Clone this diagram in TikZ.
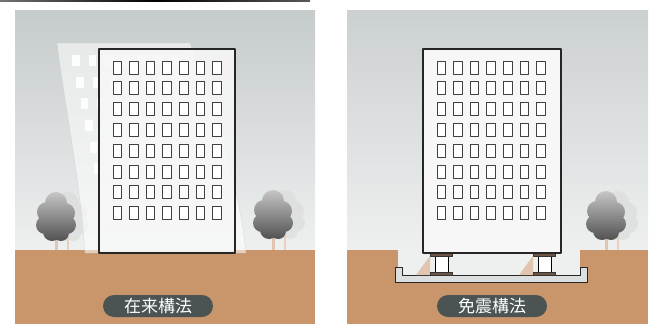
\documentclass[tikz,border=0pt]{standalone}
\usepackage{fontspec}
\newfontfamily\jpfont{Noto Sans CJK JP}
\usetikzlibrary{positioning}

\definecolor{soil}{HTML}{C9966C}
\definecolor{skytop}{HTML}{C6CBCB}
\definecolor{skylow}{HTML}{EEF0F0}
\definecolor{pillgray}{HTML}{4B5353}
\definecolor{plate}{HTML}{6E5444}
\definecolor{slab}{HTML}{DCDFDF}

\tikzset{
  bldg/.style={draw=black!85, line width=1.1pt, fill=white!94!gray, fill opacity=0.88},
  win/.style={draw=black!75, line width=0.7pt, fill=white},
  ghostwin/.style={fill=white, opacity=0.9},
  tag/.style={fill=pillgray, rounded corners=11pt, minimum width=110pt,
    minimum height=22pt, inner sep=0pt, text=white,
    font=\jpfont\fontsize{17}{17}\selectfont},
}

% canopy of a tree as a bunch of circles
\newcommand{\canopy}[2]{%
  (#1,#2) circle (13) (#1,#2-16) circle (11)
  (#1-9,#2-7) circle (10) (#1+9,#2-6) circle (10)
  (#1-11,#2+6) circle (9) (#1+11,#2+6) circle (9)
  (#1-4,#2+13) circle (9) (#1+5,#2+14) circle (8)}
\newcommand{\treeat}[2]{%
  \fill[gray!30, opacity=0.6] \canopy{#1+12}{#2};
  \fill[soil!45] (#1+11,#2+18) rectangle (#1+13,250);
  \fill[soil!55] (#1-1,#2+18) rectangle (#1+1.5,250);
  \shade[top color=gray!45, bottom color=black!68] \canopy{#1}{#2};}

\begin{document}
\begin{tikzpicture}[x=1pt,y=-1pt, line cap=round, line join=round]
\useasboundingbox (0,0) rectangle (656,324);

\shade[left color=black!55, right color=black!65, middle color=black] (0,0) rectangle (310,1.6);

% left panel: conventional building swaying
\shade[top color=skytop, bottom color=skylow] (15,10) rectangle (315,250);
\fill[soil] (15,250) rectangle (315,324);

\treeat{56}{219}
\treeat{273}{217}

\fill[white, opacity=0.55, draw=gray!45, line width=0.4pt]
  (57,43) -- (190,43) .. controls (215,110) and (240,190) .. (246,253)
  -- (85,253) .. controls (80,180) and (64,100) .. (57,43) -- cycle;
\foreach \r in {0,...,7}
  \foreach \c in {0,...,6}
    \fill[ghostwin] ({113+16.6*\c-41+31*\r/7},{61+20.8*\r-6*(1-\r/7)}) rectangle +(7.5,11);

\draw[bldg] (99,49) rectangle (235,253);
\foreach \r in {0,...,7}
  \foreach \c in {0,...,6}
    \draw[win] ({113+16.6*\c},{61+20.8*\r}) rectangle +(8.5,13);

\node[tag] (conv) at (158,306) {在来構法};

% right panel: base isolated building
\shade[top color=skytop!90!white, bottom color=skylow] (347,10) rectangle (648,250);
\fill[soil] (347,250) rectangle (648,324);
\fill[skylow] (398,250) rectangle (580,275);

\treeat{606}{218}

% pit with the foundation slab
\fill[slab, draw=black!85, line width=0.8pt]
  (395,267) -- (395,282) -- (587,282) -- (587,267) -- (580,267)
  -- (580,275) -- (402,275) -- (402,267) -- cycle;

% isolators
\foreach \ix in {430,533} {
  \fill[soil!55] (\ix-14,275) -- (\ix,256) -- (\ix,275) -- cycle;
  \draw[fill=white, line width=0.7pt] (\ix+5,256) rectangle (\ix+18,272);
  \filldraw[fill=plate, draw=black!80, line width=0.6pt] (\ix,253) rectangle (\ix+22,256);
  \filldraw[fill=plate, draw=black!80, line width=0.6pt] (\ix,272) rectangle (\ix+22,275);
}

\draw[bldg, fill opacity=1] (423,49) rectangle (561,253);
\foreach \r in {0,...,7}
  \foreach \c in {0,...,6}
    \draw[win] ({437+16.6*\c},{61+20.8*\r}) rectangle +(8.5,13);

\node[tag] (iso) at (492,306) {免震構法};

\end{tikzpicture}
\end{document}
